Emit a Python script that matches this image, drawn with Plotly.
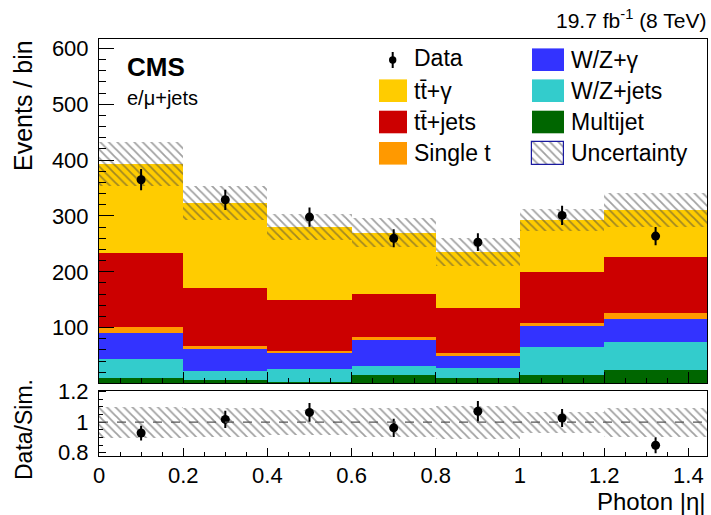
import plotly.graph_objects as go

# bins of photon |eta|
bin_lo = [0.0, 0.2, 0.4, 0.6, 0.8, 1.0, 1.2]
bin_hi = [0.2, 0.4, 0.6, 0.8, 1.0, 1.2, 1.4442]

# stacked contributions (bottom to top), events / bin
multijet = [10, 6, 2, 15, 10, 15, 24]
wz_jets = [34, 16, 24, 17, 18, 50, 50]
wz_gamma = [47, 40, 28, 45, 21, 38, 41]
single_t = [10, 5, 5, 6, 6, 6, 11]
tt_jets = [132, 104, 91, 77, 80, 91, 101]
tt_gamma = [160, 152, 130, 110, 101, 93, 84]

# total uncertainty on the simulation
sim_unc = [39, 30, 23, 26, 25, 20, 30]

# observed data
data = [365, 329, 298, 260, 253, 301, 264]

stack = [
    ('Multijet', multijet, '#006600'),
    ('W/Z+jets', wz_jets, '#33CCCC'),
    ('W/Z+γ', wz_gamma, '#3333FF'),
    ('Single t', single_t, '#FF9900'),
    ('tt̄+jets', tt_jets, '#CC0000'),
    ('tt̄+γ', tt_gamma, '#FFCC00'),
]

centers = [(a + b) / 2 for a, b in zip(bin_lo, bin_hi)]
widths = [b - a for a, b in zip(bin_lo, bin_hi)]
xmax = bin_hi[-1]

FONT = 'Liberation Sans, Arial, Helvetica, sans-serif'
hatch = dict(shape='\\', fgcolor='#444444', bgcolor='rgba(0,0,0,0)',
             size=6, solidity=0.3, fillmode='overlay')

fig = go.Figure()

# stacked histogram
base = [0] * len(centers)
for name, vals, col in stack:
    fig.add_trace(go.Bar(x=centers, y=vals, base=list(base), width=widths,
                         marker=dict(color=col, line=dict(width=0)),
                         name=name, showlegend=False, xaxis='x', yaxis='y'))
    base = [b + v for b, v in zip(base, vals)]
total = base

# uncertainty band
fig.add_trace(go.Bar(x=centers, y=[2 * u for u in sim_unc],
                     base=[t - u for t, u in zip(total, sim_unc)], width=widths,
                     marker=dict(color='rgba(0,0,0,0)', line=dict(width=0), pattern=hatch),
                     showlegend=False, xaxis='x', yaxis='y'))

# data points
data_err = [d ** 0.5 for d in data]
fig.add_trace(go.Scatter(x=centers, y=data, mode='markers',
                         marker=dict(color='black', size=9),
                         error_y=dict(type='data', array=data_err, thickness=2, width=0, color='black'),
                         showlegend=False, xaxis='x', yaxis='y'))

# ratio panel
rel_unc = [u / t for u, t in zip(sim_unc, total)]
ratio = [d / t for d, t in zip(data, total)]
ratio_err = [e / t for e, t in zip(data_err, total)]
fig.add_trace(go.Bar(x=centers, y=[2 * r for r in rel_unc],
                     base=[1 - r for r in rel_unc], width=widths,
                     marker=dict(color='rgba(0,0,0,0)', line=dict(width=0), pattern=hatch),
                     showlegend=False, xaxis='x2', yaxis='y2'))
fig.add_trace(go.Scatter(x=centers, y=ratio, mode='markers',
                         marker=dict(color='black', size=9),
                         error_y=dict(type='data', array=ratio_err, thickness=2, width=0, color='black'),
                         showlegend=False, xaxis='x2', yaxis='y2'))

# pixel helpers for decorations (plot area 99..707 x 39..456)
L, R, T, B = 99, 707, 39, 456
def px(x):
    return (x - L) / (R - L)
def py(y):
    return (B - y) / (B - T)

# hatched legend swatch on a hidden full-area axis (pixel units from plot-area bottom-left)
fig.add_trace(go.Bar(x=[548 - L], y=[23], base=[B - 165], width=[32],
                     marker=dict(color='rgba(0,0,0,0)', line=dict(width=1.2, color='#1a1aa0'), pattern=hatch),
                     showlegend=False, xaxis='x3', yaxis='y3'))

shapes = []
annos = []

# legend
rows = [59.7, 90.7, 122, 153.3]
col1 = [None, ('tt̄+γ', '#FFCC00'), ('tt̄+jets', '#CC0000'), ('Single t', '#FF9900')]
col2 = [('W/Z+γ', '#3333FF'), ('W/Z+jets', '#33CCCC'), ('Multijet', '#006600'), ('Uncertainty', None)]
for ry, item in zip(rows, col1):
    if item:
        shapes.append(dict(type='rect', xref='paper', yref='paper', x0=px(379), x1=px(407),
                           y0=py(ry - 11.3), y1=py(ry + 11.3), fillcolor=item[1], line=dict(width=0)))
        annos.append(dict(text=item[0], x=px(412), y=py(ry), xanchor='left', yanchor='middle'))
annos.append(dict(text='Data', x=px(412), y=py(rows[0] - 2), xanchor='left', yanchor='middle'))
shapes.append(dict(type='line', xref='paper', yref='paper', x0=px(392.7), x1=px(392.7),
                   y0=py(52), y1=py(68), line=dict(color='black', width=2)))
shapes.append(dict(type='circle', xref='paper', yref='paper', x0=px(389), x1=px(396.4),
                   y0=py(56.3), y1=py(63.7), fillcolor='black', line=dict(width=0)))
for ry, item in zip(rows, col2):
    if item[1]:
        shapes.append(dict(type='rect', xref='paper', yref='paper', x0=px(532), x1=px(564),
                           y0=py(ry - 11.3), y1=py(ry + 11.3), fillcolor=item[1], line=dict(width=0)))
    annos.append(dict(text=item[0], x=px(569), y=py(ry), xanchor='left', yanchor='middle'))
for a in annos:
    a.update(xref='paper', yref='paper', showarrow=False, font=dict(size=23, color='black', family=FONT))

# dashed line at 1 in ratio panel
shapes.append(dict(type='line', xref='x2 domain', yref='y2', x0=0, x1=1, y0=1, y1=1,
                   line=dict(color='#555555', width=1.2, dash='dash')))

# texts
txt = dict(xref='paper', yref='paper', showarrow=False)
annos += [
    dict(text='CMS', x=px(125), y=py(67), xanchor='left', yanchor='middle',
         font=dict(size=26, family=FONT, color='black', weight='bold'), **txt),
    dict(text='e/μ+jets', x=px(125), y=py(98), xanchor='left', yanchor='middle',
         font=dict(size=20, family=FONT, color='black'), **txt),
    dict(text='19.7 fb<sup>-1</sup> (8 TeV)', x=px(708), y=py(19), xanchor='right', yanchor='middle',
         font=dict(size=21, family=FONT, color='black'), **txt),
    dict(text='Events / bin', x=px(23), y=py(106), xanchor='center', yanchor='middle', textangle=-90,
         font=dict(size=25, family=FONT, color='black'), **txt),
    dict(text='Data/Sim.', x=px(24), y=py(430), xanchor='center', yanchor='middle', textangle=-90,
         font=dict(size=23, family=FONT, color='black'), **txt),
    dict(text='Photon |η|', x=px(708), y=py(501), xanchor='right', yanchor='middle',
         font=dict(size=24, family=FONT, color='black'), **txt),
]

tickfont = dict(size=22, family=FONT, color='black')
frame = dict(showline=True, linecolor='black', linewidth=1, mirror=True, showgrid=False, zeroline=False)

fig.update_layout(
    width=711, height=515,
    margin=dict(l=L, r=711 - R, t=T, b=515 - B),
    paper_bgcolor='white', plot_bgcolor='rgba(0,0,0,0)',
    barmode='overlay', bargap=0,
    showlegend=False,
    shapes=shapes, annotations=annos,
    xaxis=dict(range=[0, xmax], domain=[0, 1], anchor='y', matches='x2', showticklabels=False,
               ticks='inside', ticklen=11, tickcolor='black', dtick=0.2, tick0=0,
               minor=dict(ticks='inside', ticklen=5, dtick=0.05, tickcolor='black'), **frame),
    yaxis=dict(range=[0, 617], domain=[0.1739, 1], anchor='x',
               tickvals=[100, 200, 300, 400, 500, 600], ticks='inside', ticklen=15, tickcolor='black',
               minor=dict(ticks='inside', ticklen=7, dtick=20, tickcolor='black'),
               tickfont=tickfont, ticklabelstandoff=5, **frame),
    xaxis2=dict(range=[0, xmax], domain=[0, 1], anchor='y2',
                tickvals=[0, 0.2, 0.4, 0.6, 0.8, 1, 1.2, 1.4], ticktext=['0', '0.2', '0.4', '0.6', '0.8', '1', '1.2', '1.4'],
                ticks='inside', ticklen=8, tickcolor='black',
                minor=dict(ticks='inside', ticklen=4, dtick=0.05, tickcolor='black'),
                tickfont=tickfont, ticklabelstandoff=0, **frame),
    yaxis2=dict(range=[0.778, 1.207], domain=[0, 0.1566], anchor='x2',
                tickvals=[0.8, 1, 1.2], ticktext=['0.8', '1', '1.2'],
                ticks='inside', ticklen=7, tickcolor='black',
                minor=dict(ticks='inside', ticklen=4, dtick=0.05, tickcolor='black'),
                tickfont=tickfont, ticklabelstandoff=5, **frame),
    xaxis3=dict(range=[0, R - L], domain=[0, 1], anchor='y3', visible=False),
    yaxis3=dict(range=[0, B - T], domain=[0, 1], anchor='x3', visible=False),
)

fig.write_html('out.html', config={'displayModeBar': False},
               post_script="document.body.style.margin='0';")
